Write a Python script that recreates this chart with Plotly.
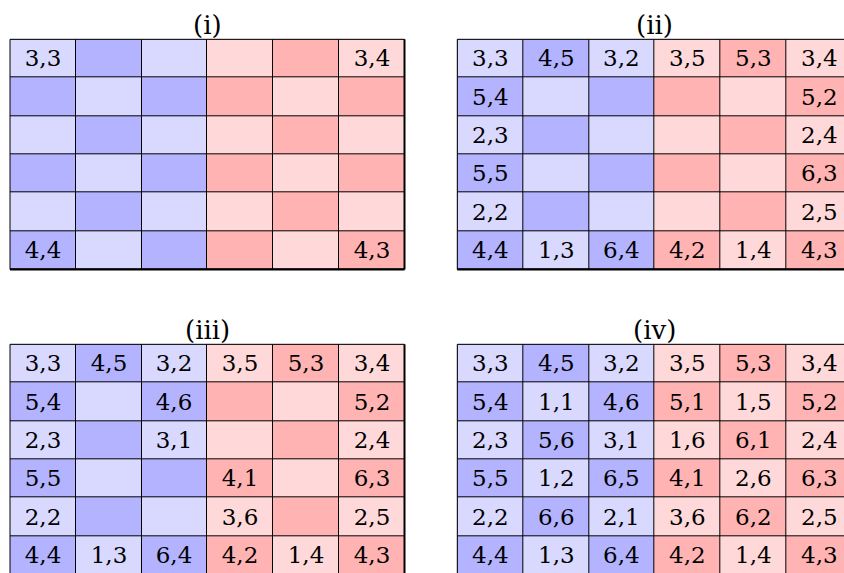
import plotly.graph_objects as go

W, H = 844, 573

# colour class of each cell: 0 light blue, 1 dark blue, 2 light red, 3 dark red
shade = [
    [0, 1, 0, 2, 3, 2],
    [1, 0, 1, 3, 2, 3],
    [0, 1, 0, 2, 3, 2],
    [1, 0, 1, 3, 2, 3],
    [0, 1, 0, 2, 3, 2],
    [1, 0, 1, 3, 2, 3],
]
shade_colors = ["#d9d9ff", "#b3b3ff", "#ffd9d9", "#ffb3b3"]

titles = ["(i)", "(ii)", "(iii)", "(iv)"]

labels_i = [
    ["3,3", "", "", "", "", "3,4"],
    ["", "", "", "", "", ""],
    ["", "", "", "", "", ""],
    ["", "", "", "", "", ""],
    ["", "", "", "", "", ""],
    ["4,4", "", "", "", "", "4,3"],
]
labels_ii = [
    ["3,3", "4,5", "3,2", "3,5", "5,3", "3,4"],
    ["5,4", "", "", "", "", "5,2"],
    ["2,3", "", "", "", "", "2,4"],
    ["5,5", "", "", "", "", "6,3"],
    ["2,2", "", "", "", "", "2,5"],
    ["4,4", "1,3", "6,4", "4,2", "1,4", "4,3"],
]
labels_iii = [
    ["3,3", "4,5", "3,2", "3,5", "5,3", "3,4"],
    ["5,4", "", "4,6", "", "", "5,2"],
    ["2,3", "", "3,1", "", "", "2,4"],
    ["5,5", "", "", "4,1", "", "6,3"],
    ["2,2", "", "", "3,6", "", "2,5"],
    ["4,4", "1,3", "6,4", "4,2", "1,4", "4,3"],
]
labels_iv = [
    ["3,3", "4,5", "3,2", "3,5", "5,3", "3,4"],
    ["5,4", "1,1", "4,6", "5,1", "1,5", "5,2"],
    ["2,3", "5,6", "3,1", "1,6", "6,1", "2,4"],
    ["5,5", "1,2", "6,5", "4,1", "2,6", "6,3"],
    ["2,2", "6,6", "2,1", "3,6", "6,2", "2,5"],
    ["4,4", "1,3", "6,4", "4,2", "1,4", "4,3"],
]
panel_labels = [labels_i, labels_ii, labels_iii, labels_iv]

# layout geometry (pixels)
lefts = [10.0, 457.3]
tops = [39.3, 344.3]
cell_w = 65.75
cell_h = 38.37
FONT = "DejaVu Serif"

colorscale = [[k / 3, c] for k, c in enumerate(shade_colors)]

fig = go.Figure()
layout = dict(
    width=W, height=H, margin=dict(l=0, r=0, t=0, b=0),
    paper_bgcolor="white", plot_bgcolor="black", showlegend=False,
)
annotations = []
shapes = []
for p in range(4):
    col, row = p % 2, p // 2
    x0 = lefts[col]
    y0 = tops[row]
    x1 = x0 + 6 * cell_w
    y1 = y0 + 6 * cell_h
    clip_x = x1 > W
    clip_y = y1 > H
    vx1 = min(x1, W)
    vy1 = min(y1, H)
    xr = [-0.5, -0.5 + (vx1 - x0) / cell_w]
    yr = [-0.5 + (vy1 - y0) / cell_h, -0.5]
    n = "" if p == 0 else str(p + 1)
    layout["xaxis" + n] = dict(
        domain=[x0 / W, vx1 / W], range=xr, visible=False,
        anchor="y" + n, fixedrange=True,
    )
    layout["yaxis" + n] = dict(
        domain=[1 - vy1 / H, 1 - y0 / H], range=yr, visible=False,
        anchor="x" + n, fixedrange=True,
    )
    fig.add_trace(go.Heatmap(
        z=shade, text=panel_labels[p], texttemplate="%{text}",
        textfont=dict(family=FONT, size=23, color="black"),
        colorscale=colorscale, zmin=0, zmax=3, showscale=False,
        xgap=1, ygap=1, hoverinfo="skip",
        xaxis="x" + n, yaxis="y" + n,
    ))
    xd, yd = "x" + n + " domain", "y" + n + " domain"
    line = dict(color="black", width=1)
    shapes.append(dict(type="line", xref=xd, yref=yd, x0=0, x1=0, y0=0, y1=1, line=line))
    shapes.append(dict(type="line", xref=xd, yref=yd, x0=0, x1=1, y0=1, y1=1, line=line))
    if not clip_x:
        shapes.append(dict(type="line", xref=xd, yref=yd, x0=1, x1=1, y0=0, y1=1,
                           line=dict(color="black", width=2)))
    if not clip_y:
        shapes.append(dict(type="line", xref=xd, yref=yd, x0=0, x1=1, y0=0, y1=0,
                           line=dict(color="black", width=2)))
    annotations.append(dict(
        text=titles[p], xref="paper", yref="paper",
        x=(x0 + x1) / 2 / W, y=1 - (y0 - 14.5) / H,
        xanchor="center", yanchor="middle", showarrow=False,
        font=dict(family=FONT, size=26, color="black"),
    ))

layout["annotations"] = annotations
layout["shapes"] = shapes
fig.update_layout(**layout)
fig.write_html(
    "out.html",
    config={"displayModeBar": False},
    post_script="document.body.style.margin='0';document.body.style.overflow='hidden';",
)
